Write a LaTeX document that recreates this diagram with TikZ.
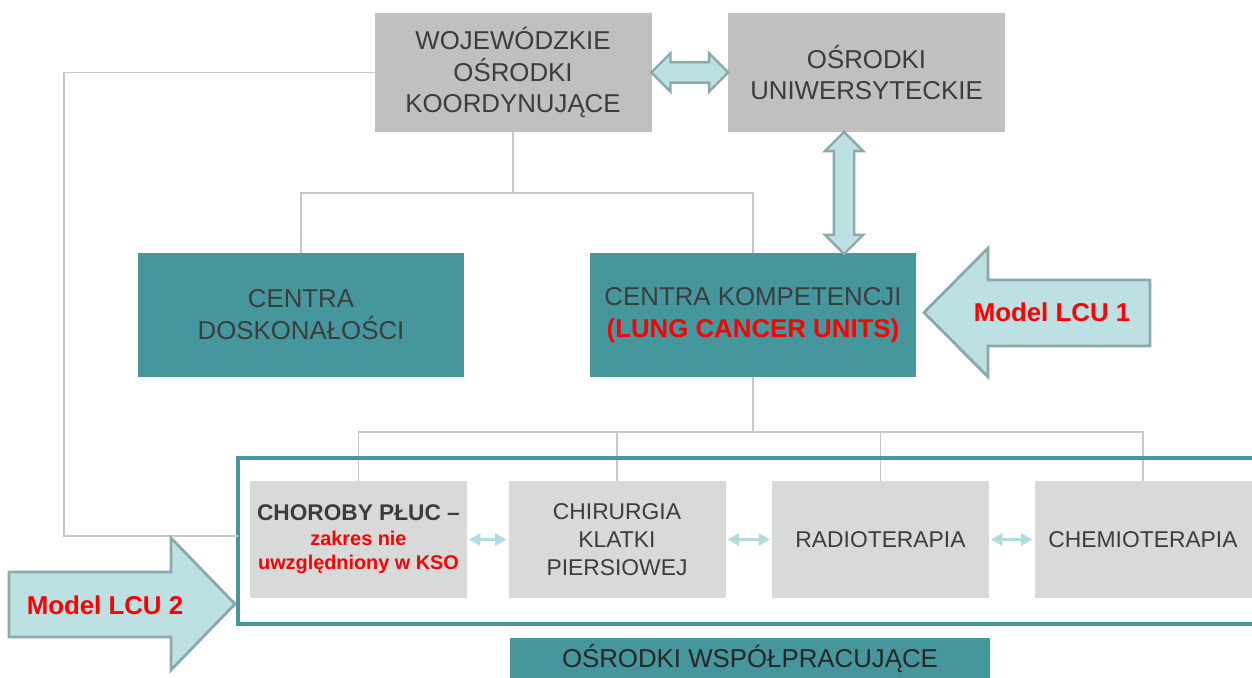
\documentclass[tikz,border=0pt]{standalone}
\usepackage{fontspec}
\setmainfont{Liberation Sans}
\usepackage{xcolor}
\usepackage{tikz}
\usetikzlibrary{arrows.meta, calc, shapes.arrows}
\definecolor{boxgray}{HTML}{C0C0C0}
\definecolor{unitgray}{HTML}{D8D9D9}
\definecolor{tealbox}{HTML}{46979D}
\definecolor{txtgray}{HTML}{3C3C3C}
\definecolor{linegray}{HTML}{C8C8C8}
\definecolor{arrowfill}{HTML}{BDE0E3}
\definecolor{arrowedge}{HTML}{8CA9AA}
\definecolor{sidearrow}{HTML}{B3DCDF}
\newcommand{\pxu}{0.02cm}
\tikzset{
    topbox/.style={fill=boxgray, text=txtgray, minimum width=277*\pxu, minimum height=119*\pxu, inner sep=0pt, outer sep=0pt, align=center, font=\fontsize{14.7}{18.1}\selectfont},
    centrebox/.style={topbox, fill=tealbox, minimum width=326*\pxu, minimum height=124*\pxu},
    unitbox/.style={fill=unitgray, text=txtgray, minimum width=217*\pxu, minimum height=117*\pxu, inner sep=0pt, outer sep=0pt, align=center, font=\fontsize{13}{15.9}\selectfont},
    groupframe/.style={draw=tealbox, line width=2pt, minimum width=1030*\pxu, minimum height=166*\pxu, inner sep=0pt, outer sep=0pt},
    link/.style={draw=linegray, line width=0.85pt},
    fatlink/.style={double arrow, draw=arrowedge, fill=arrowfill, line width=1.4pt, inner sep=9*\pxu, minimum width=36*\pxu, double arrow head extend=9*\pxu, outer sep=0pt},
    sidelink/.style={draw=sidearrow, line width=1.2pt, {Triangle[length=6.5pt,width=7pt]}-{Triangle[length=6.5pt,width=7pt]}},
    bigarrow/.style={draw=arrowedge, fill=arrowfill, line width=1.6pt, line join=miter},
    model/.style={text=red, font=\fontsize{14.7}{18}\selectfont\bfseries}
}

\begin{document}
\begin{tikzpicture}[x=\pxu, y=-\pxu]
    \useasboundingbox (0,0) rectangle (1252,678);
    \clip (0,0) rectangle (1252,678);

    % top level
    \node[topbox] (wok) at (513,72.5) {WOJEWÓDZKIE\\OŚRODKI\\KOORDYNUJĄCE};
    \node[topbox] (uni) at (866.5,72.5) {OŚRODKI\\UNIWERSYTECKIE};

    % centres
    \node[centrebox] (dosk) at (301,315) {CENTRA\\DOSKONAŁOŚCI};
    \node[centrebox] (ck) at (753,315) {CENTRA KOMPETENCJI\\{\bfseries\color{red}(LUNG CANCER UNITS)}};

    % cooperating units
    \node[unitbox, font=\fontsize{11.3}{13.9}\selectfont\bfseries] (choroby) at (358.5,539.5)
        {{\fontsize{12.9}{13.9}\selectfont CHOROBY PŁUC –}\\\textcolor{red}{zakres nie}\\\textcolor{red}{uwzględniony w KSO}};
    \node[unitbox] (chir) at (617,539.5) {CHIRURGIA\\KLATKI\\PIERSIOWEJ};
    \node[unitbox] (radio) at (880.5,539.5) {RADIOTERAPIA};
    \node[unitbox] (chemo) at (1143,539.5) {CHEMIOTERAPIA};

    % tree lines
    \coordinate (j1) at (513,193);
    \coordinate (bend) at (64,536);
    \draw[link] (wok.south) -- (j1);
    \draw[link] (dosk.north) |- (j1) -| (ck.north);
    \draw[link] (ck.south) -- ++(0,55) coordinate (j2);
    \draw[link] (choroby.north) |- (j2) -| (chemo.north);
    \draw[link] (chir.north) -- (chir.north |- j2);
    \draw[link] (radio.north) -- (radio.north |- j2);

    \node[groupframe] (frame) at (753,541) {};
    \draw[link] (wok.west) -| (bend) -- (bend -| frame.west);

    \node[fill=tealbox, text=black!85, minimum width=480*\pxu, minimum height=42*\pxu, inner sep=0pt,
        font=\fontsize{14.7}{18}\selectfont] (wspol) at (750,659) {OŚRODKI WSPÓŁPRACUJĄCE};

    % links between units
    \draw[sidelink] ($(choroby.east)+(2,0)$) -- ($(chir.west)+(-2,0)$);
    \draw[sidelink] ($(chir.east)+(2,0)$) -- ($(radio.west)+(-2,0)$);
    \draw[sidelink] ($(radio.east)+(2,0)$) -- ($(chemo.west)+(-2,0)$);

    % exchange arrows
    \node[fatlink, minimum height=77*\pxu] (swapa) at ($(wok.east)!0.5!(uni.west)$) {};
    \node[fatlink, rotate=90, minimum height=122*\pxu] (swapb) at (844,193) {};

    % model arrows
    \draw[bigarrow] (1150,280) -- (988,280) -- (988,248) -- (924,312.5) -- (988,377) -- (988,346) -- (1150,346) -- cycle;
    \node[model] (lcu1) at (1052,312) {Model LCU 1};
    \draw[bigarrow] (9,572) -- (171,572) -- (171,538) -- (235,604) -- (171,670) -- (171,637) -- (9,637) -- cycle;
    \node[model] (lcu2) at (105,605) {Model LCU 2};
\end{tikzpicture}
\end{document}
